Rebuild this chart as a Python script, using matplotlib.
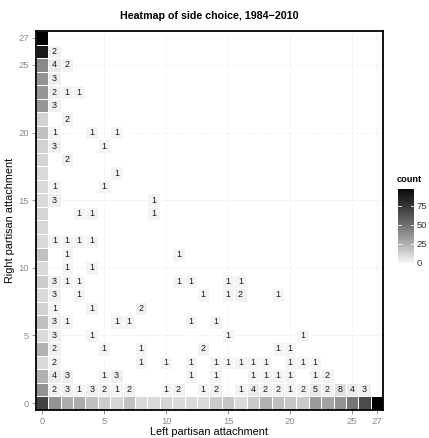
import numpy as np
import matplotlib
matplotlib.use("Agg")
import matplotlib.pyplot as plt
from matplotlib.colors import ListedColormap, Normalize

plt.rcParams["font.family"] = ["Liberation Sans", "DejaVu Sans"]

# Attachment scale runs 0..27 on both axes
n_levels = 28
axis_ticks = [0, 5, 10, 15, 20, 25, 27]

# Counts where left attachment is 0 (rows 0..27, right attachment)
left_zero_counts = [69, 36, 25, 10, 25, 10, 19, 13, 10, 15,
                    10, 19, 10, 11, 12, 10, 10, 10, 12, 13,
                    19, 13, 35, 35, 36, 40, 88, 97]

# Counts where right attachment is 0 (columns 1..27, left attachment)
right_zero_counts = [36, 26, 27, 19, 15, 12, 19, 10, 10, 12,
                     10, 10, 10, 15, 17, 10, 16, 25, 20, 17,
                     16, 33, 30, 36, 47, 65, 97]

# Remaining (left, right, count) combinations
pair_left = [1, 2, 3, 4, 5, 6, 7, 10, 11, 13, 14, 16, 17, 18, 19, 20, 21, 22, 23, 24, 25, 26,
             1, 2, 5, 6, 12, 14, 17, 18, 19, 20, 22, 23,
             1, 8, 10, 12, 14, 15, 16, 17, 18, 20, 21, 22,
             1, 5, 8, 13, 19, 20,
             1, 4, 15, 21,
             1, 2, 6, 7, 12, 14,
             1, 4, 8,
             1, 3, 13, 15, 16, 19,
             1, 2, 3, 11, 12, 15, 16,
             2, 4,
             2, 11,
             1, 2, 3, 4,
             3, 4, 9,
             1, 9,
             1, 5,
             6,
             2,
             1, 5,
             1, 4, 6,
             2,
             1,
             1, 2, 3,
             1,
             1, 2,
             1]
pair_right = [1] * 22 + [2] * 12 + [3] * 12 + [4] * 6 + [5] * 4 + [6] * 6 + [7] * 3 + \
             [8] * 6 + [9] * 7 + [10] * 2 + [11] * 2 + [12] * 4 + [14] * 3 + [15] * 2 + \
             [16] * 2 + [17] * 1 + [18] * 1 + [19] * 2 + [20] * 3 + [21] * 1 + [22] * 1 + \
             [23] * 3 + [24] * 1 + [25] * 2 + [26] * 1
pair_count = [2, 3, 1, 3, 2, 1, 2, 1, 2, 1, 2, 1, 4, 2, 2, 1, 2, 5, 2, 8, 4, 3,
              4, 3, 1, 3, 1, 1, 1, 1, 1, 1, 1, 2,
              2, 1, 1, 1, 1, 1, 1, 1, 1, 1, 1, 1,
              2, 1, 1, 2, 1, 1,
              3, 1, 1, 1,
              3, 1, 1, 1, 1, 1,
              1, 1, 2,
              3, 1, 1, 1, 2, 1,
              3, 1, 1, 1, 1, 1, 1,
              1, 1,
              1, 1,
              1, 1, 1, 1,
              1, 1, 1,
              3, 1,
              1, 1,
              1,
              2,
              3, 1,
              1, 1, 1,
              2,
              3,
              2, 1, 1,
              3,
              4, 2,
              2]

# Assemble the count grid (rows = right, cols = left); empty cells stay masked
grid = np.full((n_levels, n_levels), np.nan)
grid[:, 0] = left_zero_counts
grid[0, 1:] = right_zero_counts
for lx, ry, c in zip(pair_left, pair_right, pair_count):
    grid[ry, lx] = c
count_max = np.nanmax(grid)


def lab_gray(L):
    """sRGB gray level for a CIE lightness value."""
    f = (L + 16.0) / 116.0
    Y = np.where(f ** 3 > 0.008856, f ** 3, (f - 16.0 / 116.0) / 7.787)
    g = np.where(Y <= 0.0031308, 12.92 * Y, 1.055 * Y ** (1 / 2.4) - 0.055)
    return np.clip(g, 0, 1)


# Light-grey-to-black gradient interpolated in lightness
levels = lab_gray(np.linspace(97, 0, 256))
cmap = ListedColormap(np.column_stack([levels, levels, levels]))
norm = Normalize(vmin=0, vmax=count_max)

fig = plt.figure(figsize=(4.29, 4.38), dpi=100)
ax = fig.add_axes([0.0834, 0.0644, 0.8098, 0.8644])

for t in axis_ticks:
    ax.axvline(t, color="#f2f2f2", lw=0.5, zorder=0)
    ax.axhline(t, color="#f2f2f2", lw=0.5, zorder=0)

edges = np.arange(n_levels + 1) - 0.5
ax.pcolormesh(edges, edges, np.ma.masked_invalid(grid), cmap=cmap, norm=norm,
              edgecolors="white", linewidth=0.6, zorder=1)

# Small counts are printed inside their cells
for ry in range(n_levels):
    for lx in range(n_levels):
        c = grid[ry, lx]
        if not np.isnan(c) and c < 10:
            ax.text(lx, ry, f"{int(c)}", ha="center", va="center",
                    fontsize=6.4, color="#1a1a1a", zorder=3)

ax.set_xlim(-0.5, n_levels - 0.5)
ax.set_ylim(-0.5, n_levels - 0.5)
ax.set_xticks(axis_ticks)
ax.set_yticks(axis_ticks)
ax.set_xticklabels([str(t) for t in axis_ticks])
ax.set_yticklabels([str(t) for t in axis_ticks])
ax.tick_params(axis="both", length=3, width=0.6, color="#808080",
               labelcolor="#8c8c8c", labelsize=6.8, pad=2)
for s in ax.spines.values():
    s.set_linewidth(1.3)
    s.set_color("black")
    s.set_zorder(5)

ax.set_xlabel("Left partisan attachment", fontsize=7.8, labelpad=1)
ax.set_ylabel("Right partisan attachment", fontsize=7.8, labelpad=2)
ax.set_title("Heatmap of side choice, 1984\u22122010", fontsize=7.7,
             fontweight="bold", pad=9)

# Colour bar legend
cax = fig.add_axes([398 / 429, 1 - 263 / 438, 16 / 429, 74 / 438])
gradient = np.linspace(0, count_max, 256).reshape(-1, 1)
cax.imshow(gradient, cmap=cmap, norm=norm, origin="lower", aspect="auto",
           extent=[0, 1, 0, count_max])
bar_ticks = [0, 25, 50, 75]
for b in bar_ticks:
    cax.plot([0, 0.2], [b, b], color="white", lw=0.6)
    cax.plot([0.8, 1], [b, b], color="white", lw=0.6)
cax.set_xlim(0, 1)
cax.set_ylim(0, count_max)
cax.set_xticks([])
cax.yaxis.tick_right()
cax.set_yticks(bar_ticks)
cax.set_yticklabels([str(b) for b in bar_ticks])
cax.tick_params(axis="y", length=0, labelsize=6.8, labelcolor="#333333", pad=2)
for s in cax.spines.values():
    s.set_visible(False)
fig.text(397 / 429, 1 - 180 / 438, "count", fontsize=6.6, fontweight="bold",
         ha="left", va="center")

fig.savefig("out.png", dpi=100)
